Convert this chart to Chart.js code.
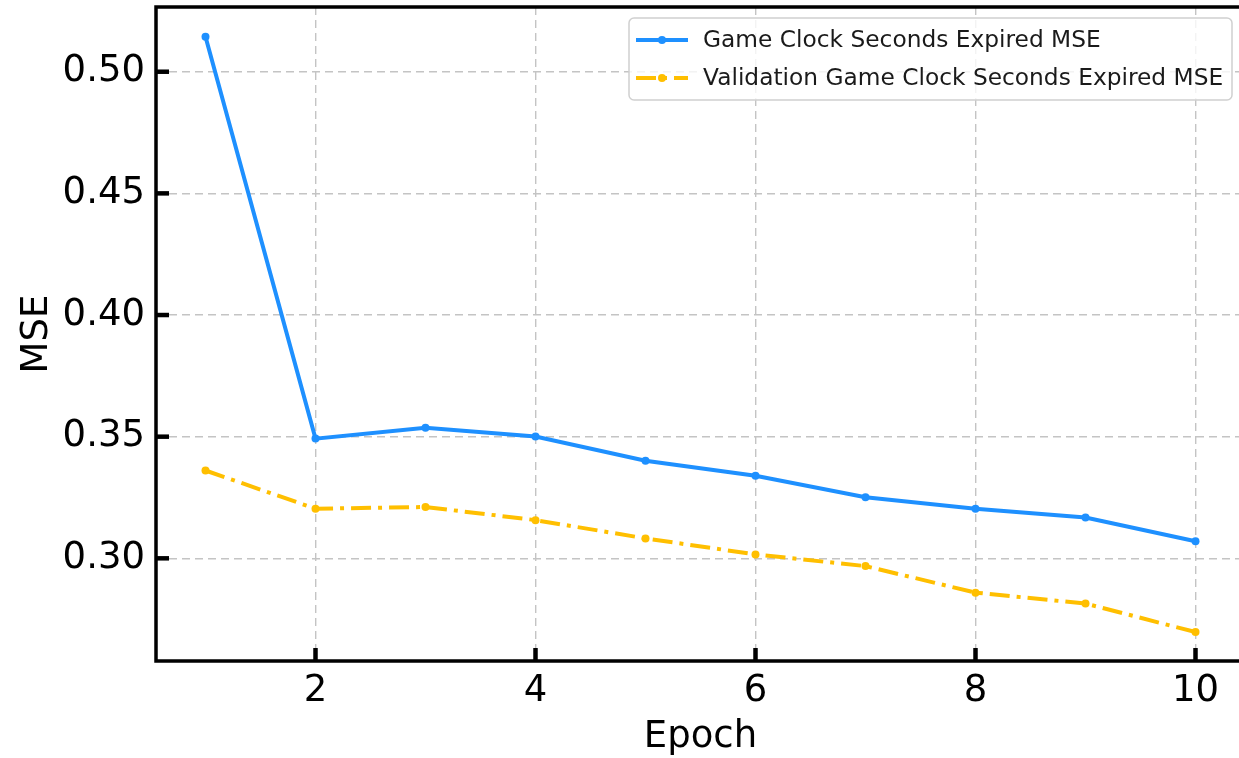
<!DOCTYPE html>
<html>
<head>
<meta charset="utf-8">
<script src="https://cdn.jsdelivr.net/npm/chart.js@4"></script>
<style>
  html, body { margin: 0; padding: 0; background: #fff; overflow: hidden; }
  #wrap { width: 1250px; height: 758px; }
</style>
</head>
<body>
<div id="wrap"><canvas id="myChart" width="1250" height="758"></canvas></div>
<script>
// chart values
var epochs = [1, 2, 3, 4, 5, 6, 7, 8, 9, 10];
var trainMse = [0.5144, 0.3492, 0.3537, 0.3501, 0.3401, 0.3339, 0.3251, 0.3204, 0.3168, 0.3070];
var valMse = [0.3361, 0.3204, 0.3211, 0.3157, 0.3082, 0.3016, 0.2968, 0.2859, 0.2814, 0.2697];
var xTicks = [2, 4, 6, 8, 10];
var yTicks = [0.30, 0.35, 0.40, 0.45, 0.50];
var seriesNames = ["Game Clock Seconds Expired MSE", "Validation Game Clock Seconds Expired MSE"];

var blue = "#1E90FF";
var amber = "#FFBF00";

Chart.defaults.font.family = "'DejaVu Sans', sans-serif";
Chart.defaults.color = "#000";

function toPoints(values) {
  return epochs.map(function (e, i) { return { x: e, y: values[i] }; });
}

// spines and inward tick marks, matplotlib style
var framePlugin = {
  id: "frame",
  afterDraw: function (chart) {
    var ctx = chart.ctx;
    var a = chart.chartArea;
    var xs = chart.scales.x;
    var ys = chart.scales.y;
    ctx.save();
    ctx.strokeStyle = "#000";
    ctx.lineWidth = 3.5;
    ctx.beginPath();
    ctx.moveTo(a.right + 5, a.top);
    ctx.lineTo(a.left, a.top);
    ctx.lineTo(a.left, a.bottom);
    ctx.lineTo(a.right + 5, a.bottom);
    ctx.stroke();
    ctx.lineWidth = 4.5;
    xTicks.forEach(function (v) {
      var px = xs.getPixelForValue(v);
      ctx.beginPath();
      ctx.moveTo(px, a.bottom);
      ctx.lineTo(px, a.bottom - 13);
      ctx.stroke();
    });
    yTicks.forEach(function (v) {
      var py = ys.getPixelForValue(v);
      ctx.beginPath();
      ctx.moveTo(a.left, py);
      ctx.lineTo(a.left + 13, py);
      ctx.stroke();
    });
    ctx.restore();
  }
};

// legend box in the upper right of the plot
var legendPlugin = {
  id: "boxLegend",
  afterDatasetsDraw: function (chart) {
    var ctx = chart.ctx;
    var x0 = 629, y0 = 18, w = 603, h = 82, r = 5;
    ctx.save();
    ctx.fillStyle = "rgba(255,255,255,0.8)";
    ctx.strokeStyle = "#d0d0d0";
    ctx.lineWidth = 1.5;
    ctx.beginPath();
    ctx.roundRect(x0, y0, w, h, r);
    ctx.fill();
    ctx.stroke();
    ctx.font = "23.3px 'DejaVu Sans'";
    ctx.textBaseline = "middle";
    chart.data.datasets.forEach(function (ds, i) {
      var cy = 40 + i * 38;
      ctx.strokeStyle = ds.borderColor;
      ctx.lineWidth = ds.borderWidth;
      ctx.setLineDash(ds.borderDash || []);
      ctx.beginPath();
      ctx.moveTo(636, cy);
      ctx.lineTo(688, cy);
      ctx.stroke();
      ctx.setLineDash([]);
      ctx.fillStyle = ds.borderColor;
      ctx.beginPath();
      ctx.arc(662, cy, ds.pointRadius, 0, Math.PI * 2);
      ctx.fill();
      ctx.fillStyle = "#1a1a1a";
      ctx.fillText(ds.label, 703, cy + 1);
    });
    ctx.restore();
  }
};

var ctx = document.getElementById("myChart").getContext("2d");

var myChart = new Chart(ctx, {
  type: "line",
  data: {
    datasets: [
      {
        label: seriesNames[0],
        data: toPoints(trainMse),
        borderColor: blue,
        backgroundColor: blue,
        borderWidth: 4,
        pointRadius: 4,
        pointBorderWidth: 0,
        pointBackgroundColor: blue,
        tension: 0
      },
      {
        label: seriesNames[1],
        data: toPoints(valMse),
        borderColor: amber,
        backgroundColor: amber,
        borderWidth: 4,
        borderDash: [20, 7, 4, 7],
        pointRadius: 4,
        pointBorderWidth: 0,
        pointBackgroundColor: amber,
        tension: 0
      }
    ]
  },
  options: {
    responsive: false,
    animation: false,
    layout: { padding: { top: 7, right: 5, left: 0, bottom: 0 } },
    plugins: {
      legend: { display: false },
      tooltip: { enabled: false }
    },
    scales: {
      x: {
        type: "linear",
        min: 0.55,
        max: 10.45,
        afterBuildTicks: function (axis) {
          axis.ticks = xTicks.map(function (v) { return { value: v }; });
        },
        afterFit: function (axis) {
          axis.height = 97;
          axis.paddingLeft = 0;
          axis.paddingRight = 0;
        },
        ticks: {
          font: { size: 37 },
          color: "#000",
          padding: 8,
          maxRotation: 0,
          callback: function (v) { return String(v); }
        },
        grid: { color: "#c4c4c4", lineWidth: 1.4, drawTicks: false },
        border: { display: false, dash: [8, 5] },
        title: {
          display: true,
          text: "Epoch",
          font: { size: 37 },
          color: "#000",
          padding: { top: 0, bottom: -2 }
        }
      },
      y: {
        min: 0.2578,
        max: 0.5266,
        afterBuildTicks: function (axis) {
          axis.ticks = yTicks.map(function (v) { return { value: v }; });
        },
        afterFit: function (axis) {
          axis.width = 156;
          axis.paddingTop = 0;
          axis.paddingBottom = 0;
        },
        ticks: {
          font: { size: 37 },
          color: "#000",
          padding: 11,
          callback: function (v) { return v.toFixed(2); }
        },
        grid: { color: "#c4c4c4", lineWidth: 1.4, drawTicks: false },
        border: { display: false, dash: [8, 5] },
        title: {
          display: true,
          text: "MSE",
          font: { size: 37 },
          color: "#000",
          padding: { top: 15, bottom: 0 }
        }
      }
    }
  },
  plugins: [legendPlugin, framePlugin]
});
</script>
</body>
</html>
